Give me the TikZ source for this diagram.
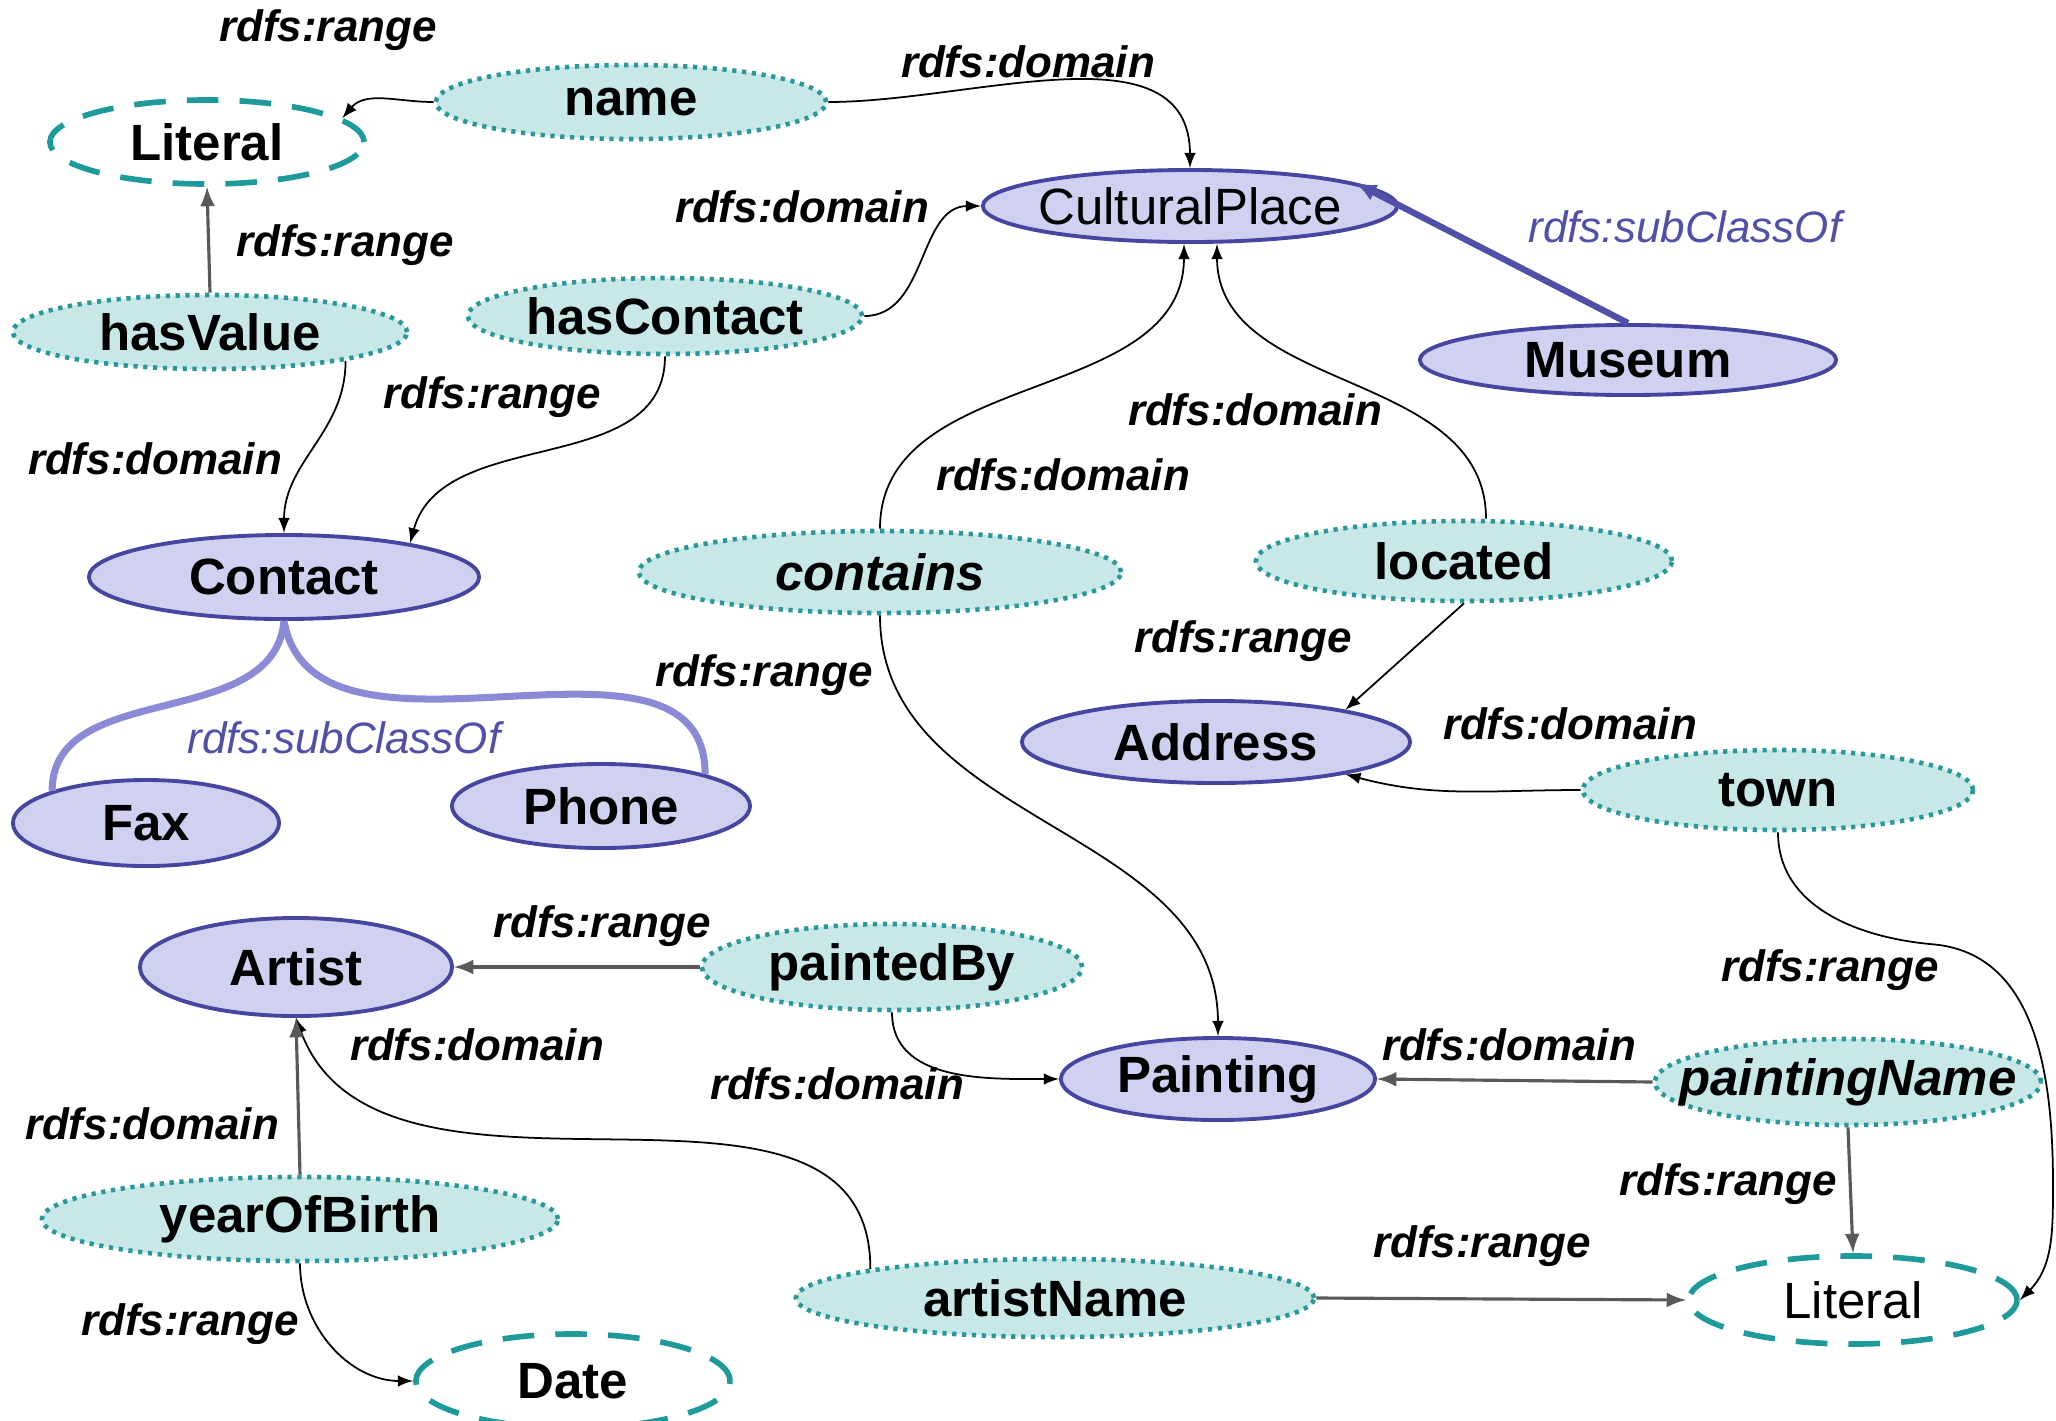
\documentclass[tikz,border=0pt]{standalone}
\usepackage{fontspec}
\setmainfont{Liberation Sans}
\usepackage{tikz}
\usetikzlibrary{shapes.geometric}
\usetikzlibrary{arrows.meta}
\definecolor{KlasseRand}{HTML}{4646A0}
\definecolor{KlasseFuell}{HTML}{D0D0F0}
\definecolor{EigRand}{HTML}{2A9898}
\definecolor{EigFuell}{HTML}{C8E8E8}
\definecolor{LitRand}{HTML}{1E9A9A}
\definecolor{SubBlau}{HTML}{5050A8}
\definecolor{SubHell}{HTML}{8A8AD6}
\tikzset{
  Knoten/.style={ellipse, inner xsep=-0.4cm, inner ysep=-0.15cm,
    font=\fontsize{14.5}{17}\selectfont\bfseries}, % alle Ellipsen
  Klasse/.style 2 args={Knoten, draw=KlasseRand, fill=KlasseFuell, line width=1.1pt,
    minimum width=#1, minimum height=#2},
  Eigenschaft/.style 2 args={Knoten, draw=EigRand, fill=EigFuell, line width=1.3pt,
    dash pattern=on 1.2pt off 1.6pt, minimum width=#1, minimum height=#2},
  Literal/.style 2 args={Knoten, draw=LitRand, fill=white, line width=1.6pt,
    dash pattern=on 9pt off 6pt, minimum width=#1, minimum height=#2},
  Pfeil/.style={->, black, line width=0.5pt}, % gebogene Kanten
  GPfeil/.style={->, black!65, line width=0.9pt}, % gerade Kanten
  SubPfeil/.style={-{Latex[length=6pt,width=5pt]}, SubBlau, line width=1.8pt},
  SubLinie/.style={SubHell, line width=2pt},
  Beschriftung/.style={inner sep=0pt, font=\fontsize{12.5}{15}\selectfont\bfseries\itshape},
  SubBeschriftung/.style={inner sep=0pt, text=SubBlau, font=\fontsize{12.5}{15}\selectfont\itshape}
}

\begin{document}
\begin{tikzpicture}[x=0.01cm, y=0.01cm,
>=latex % Voreinstellung fuer Pfeilspitzen
]
\useasboundingbox (0,0) rectangle (2056,-1420);

%Klassen
\node[Klasse={4.14cm}{0.72cm}, font=\fontsize{14.5}{17}\selectfont] (CP) at (1190,-206) {CulturalPlace};
\node[Klasse={4.16cm}{0.70cm}] (Museum) at (1628,-360) {Museum};
\node[Klasse={3.90cm}{0.84cm}] (Contact) at (284,-577) {Contact};
\node[Klasse={3.88cm}{0.82cm}] (Address) at (1216,-742) {Address};
\node[Klasse={2.66cm}{0.86cm}] (Fax) at (146,-823) {Fax};
\node[Klasse={2.98cm}{0.84cm}] (Phone) at (601,-806) {Phone};
\node[Klasse={3.12cm}{0.98cm}] (Artist) at (296,-967) {Artist};
\node[Klasse={3.14cm}{0.82cm}] (Painting) at (1218,-1079) {Painting};

%Eigenschaften
\node[Eigenschaft={3.90cm}{0.74cm}] (name) at (631,-102) {name};
\node[Eigenschaft={3.94cm}{0.74cm}] (hasValue) at (210,-332) {hasValue};
\node[Eigenschaft={3.94cm}{0.76cm}] (hasContact) at (665,-316) {hasContact};
\node[Eigenschaft={4.82cm}{0.82cm}] (contains) at (880,-572) {\itshape contains};
\node[Eigenschaft={4.16cm}{0.80cm}] (located) at (1464,-561) {located};
\node[Eigenschaft={3.90cm}{0.80cm}] (town) at (1778,-790) {town};
\node[Eigenschaft={3.80cm}{0.86cm}] (paintedBy) at (892,-967) {paintedBy};
\node[Eigenschaft={3.86cm}{0.86cm}] (paintingName) at (1848,-1082) {\itshape paintingName};
\node[Eigenschaft={5.16cm}{0.84cm}] (yearOfBirth) at (300,-1219) {yearOfBirth};
\node[Eigenschaft={5.18cm}{0.78cm}] (artistName) at (1055,-1298) {artistName};

%Literale
\node[Literal={3.14cm}{0.84cm}] (Lit1) at (207,-142) {Literal};
\node[Literal={3.28cm}{0.88cm}, font=\fontsize{14.5}{17}\selectfont] (Lit2) at (1853,-1300) {Literal};
\node[Literal={3.14cm}{0.94cm}] (Date) at (573,-1381) {Date};

%Kanten
\draw[Pfeil] (name.west) to[out=180,in=50] (Lit1.10);
\draw[Pfeil] (name.east) to[out=0,in=90] (CP.north);
\draw[Pfeil] (hasContact.east) to[out=0,in=180] (CP.west);
\draw[GPfeil] (hasValue.north) -- (Lit1.south);
\draw[Pfeil] (hasValue.-12) to[out=-90,in=90] (Contact.north);
\draw[Pfeil] (hasContact.south) to[out=-90,in=75] (Contact.15);
\draw[Pfeil] (contains.north) to[out=90,in=-90] ([xshift=-0.06cm]CP.south);
\draw[Pfeil] ([xshift=0.22cm]located.north) to[out=90,in=-90] ([xshift=0.27cm]CP.south);
\draw[SubPfeil] (Museum.north) -- (CP.8);
\draw[Pfeil] (located.south) -- (Address.14);
\draw[Pfeil] (town.west) to[out=180,in=-15] (Address.-14);
\draw[Pfeil] (contains.south) to[out=-90,in=90] (Painting.north);
\draw[SubLinie] (Contact.south) to[out=-95,in=90] (Fax.161);
\draw[SubLinie] (Contact.south) to[out=-80,in=90] (Phone.17);
\draw[GPfeil] (paintedBy.west) -- (Artist.east);
\draw[Pfeil] (paintedBy.south) to[out=-90,in=180] (Painting.west);
\draw[GPfeil] (paintingName.west) -- (Painting.east);
\draw[GPfeil] (paintingName.south) -- (Lit2.north);
\draw[GPfeil] (artistName.east) -- (Lit2.west);
\draw[Pfeil] (artistName.171) to[out=90,in=-70] (Artist.south);
\draw[GPfeil] (yearOfBirth.north) -- (Artist.south);
\draw[Pfeil] (yearOfBirth.south) to[out=-90,in=180] (Date.west);
\draw[Pfeil] (town.south) to[out=-90,in=175] ++(155,-112) to[out=-5,in=90] ++(120,-240)
  to[out=-90,in=45] (Lit2.east);

%Beschriftungen
\node[Beschriftung] (b1) at (328,-30) {rdfs:range};
\node[Beschriftung] (b2) at (1028,-62) {rdfs:domain};
\node[Beschriftung] (b3) at (802,-207) {rdfs:domain};
\node[SubBeschriftung] (b4) at (1685,-227) {rdfs:subClassOf};
\node[Beschriftung] (b5) at (345,-245) {rdfs:range};
\node[Beschriftung] (b6) at (492,-397) {rdfs:range};
\node[Beschriftung] (b7) at (155,-459) {rdfs:domain};
\node[Beschriftung] (b8) at (1255,-410) {rdfs:domain};
\node[Beschriftung] (b9) at (1063,-475) {rdfs:domain};
\node[Beschriftung] (b10) at (1243,-641) {rdfs:range};
\node[Beschriftung] (b11) at (764,-675) {rdfs:range};
\node[SubBeschriftung] (b12) at (344,-738) {rdfs:subClassOf};
\node[Beschriftung] (b13) at (1570,-724) {rdfs:domain};
\node[Beschriftung] (b14) at (602,-926) {rdfs:range};
\node[Beschriftung] (b15) at (1830,-970) {rdfs:range};
\node[Beschriftung] (b16) at (477,-1045) {rdfs:domain};
\node[Beschriftung] (b17) at (1509,-1045) {rdfs:domain};
\node[Beschriftung] (b18) at (837,-1084) {rdfs:domain};
\node[Beschriftung] (b19) at (152,-1124) {rdfs:domain};
\node[Beschriftung] (b20) at (1728,-1184) {rdfs:range};
\node[Beschriftung] (b21) at (1482,-1246) {rdfs:range};
\node[Beschriftung] (b22) at (190,-1324) {rdfs:range};

\end{tikzpicture}
\end{document}
